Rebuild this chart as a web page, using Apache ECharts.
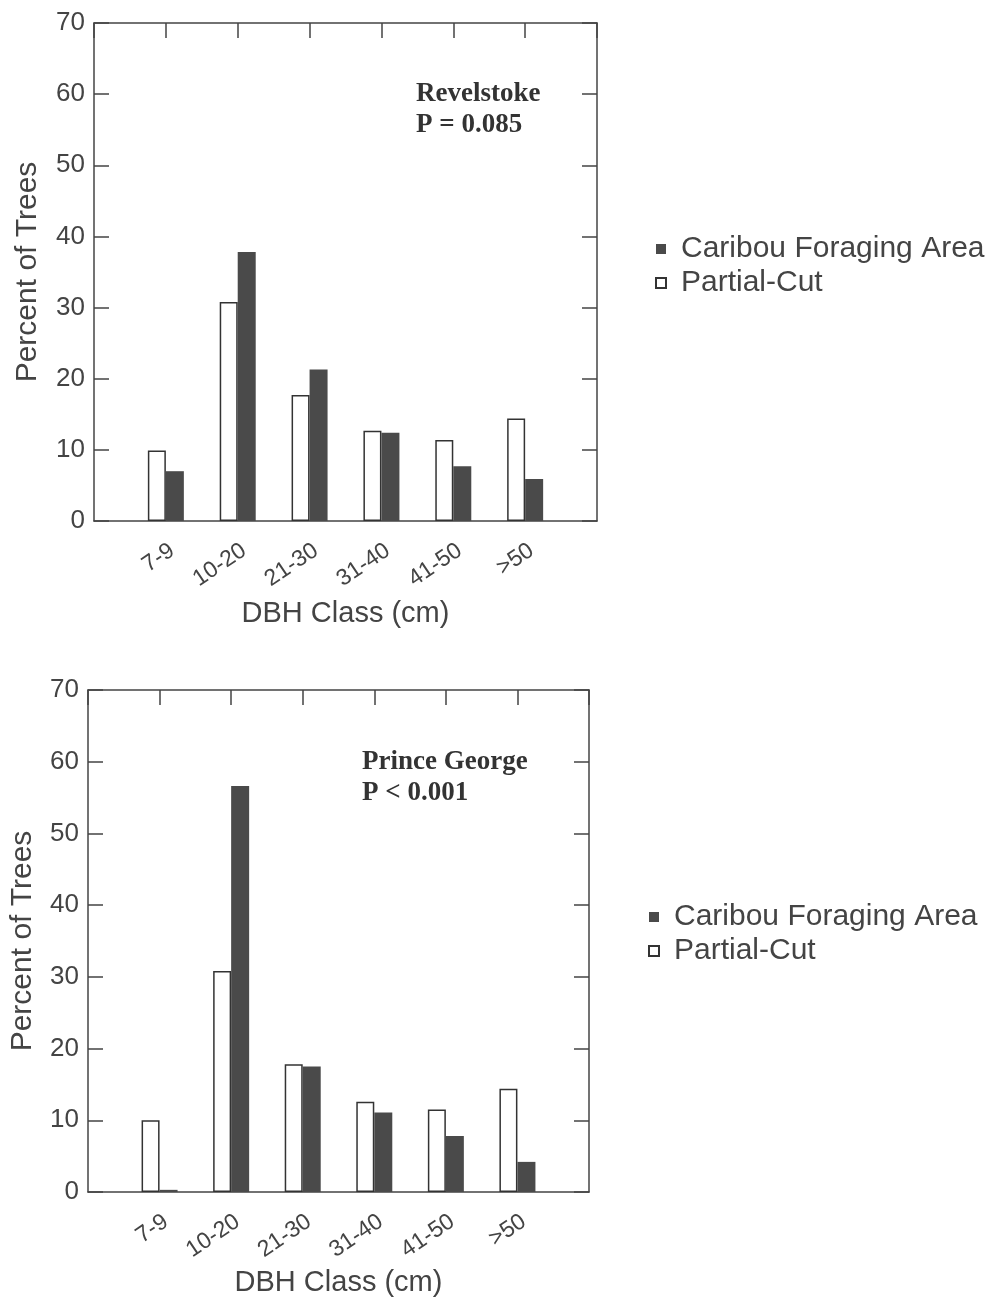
<!DOCTYPE html>
<html lang="en">

<head>
    <meta charset="UTF-8">
    <title>DBH Class</title>
    <script src="https://cdn.jsdelivr.net/npm/echarts@6/dist/echarts.min.js"></script>
    <style>
        * {
            margin: 0;
            padding: 0;
        }

        #main {
            width: 997px;
            height: 1302px;
            background-color: #fff;
        }
    </style>
</head>

<body>
    <div id="main"></div>
    <script>
        var categories = ['7-9', '10-20', '21-30', '31-40', '41-50', '>50'];
        var seriesNames = ['Caribou Foraging Area', 'Partial-Cut'];
        var revelstokeCaribou = [7.0, 37.8, 21.3, 12.4, 7.7, 5.9];
        var revelstokePartial = [9.9, 30.8, 17.7, 12.7, 11.4, 14.4];
        var princeCaribou = [0.3, 56.6, 17.5, 11.1, 7.8, 4.2];
        var princePartial = [10.0, 30.8, 17.8, 12.6, 11.5, 14.4];

        var chart = echarts.init(document.getElementById('main'));
        var axisColor = '#444';
        var textColor = '#444';
        var font = 'Liberation Sans';

        // categories sit at 1..6 on a 0..7 value axis so the frame has room at both ends
        function toPoints(values) {
            return values.map(function (v, i) { return [i + 1, v]; });
        }

        function xAxes(gi, gap) {
            return [{
                type: 'value', gridIndex: gi, position: 'bottom',
                min: 0, max: 7, interval: 1,
                name: 'DBH Class (cm)', nameLocation: 'middle', nameGap: gap,
                nameTextStyle: { fontSize: 29, color: textColor, fontFamily: font },
                axisLine: { onZero: false, lineStyle: { color: axisColor, width: 1.5 } },
                axisTick: { show: false },
                splitLine: { show: false },
                axisLabel: {
                    rotate: 34, margin: 18, fontSize: 23, color: textColor, fontFamily: font,
                    verticalAlign: 'top',
                    formatter: function (v) { return categories[v - 1] || ''; }
                }
            }, {
                type: 'value', gridIndex: gi, position: 'top',
                min: 0, max: 7, interval: 1,
                axisLine: { onZero: false, lineStyle: { color: axisColor, width: 1.5 } },
                axisTick: { inside: true, length: 15, lineStyle: { color: axisColor, width: 1.5 } },
                axisLabel: { show: false },
                splitLine: { show: false }
            }];
        }

        function yAxes(gi, gap) {
            return [{
                type: 'value', gridIndex: gi, position: 'left',
                min: 0, max: 70, interval: 10,
                name: 'Percent of Trees', nameLocation: 'middle', nameGap: gap,
                nameTextStyle: { fontSize: 30, color: textColor, fontFamily: font },
                axisLine: { show: true, onZero: false, lineStyle: { color: axisColor, width: 1.5 } },
                axisTick: { show: true, inside: true, length: 15, lineStyle: { color: axisColor, width: 1.5 } },
                axisLabel: { fontSize: 26, color: textColor, margin: 9, fontFamily: font },
                splitLine: { show: false }
            }, {
                type: 'value', gridIndex: gi, position: 'right',
                min: 0, max: 70, interval: 10,
                axisLine: { show: true, onZero: false, lineStyle: { color: axisColor, width: 1.5 } },
                axisTick: { show: true, inside: true, length: 15, lineStyle: { color: axisColor, width: 1.5 } },
                axisLabel: { show: false },
                splitLine: { show: false }
            }];
        }

        function barSeries(gi, partial, caribou) {
            return [{
                name: seriesNames[1], type: 'bar',
                xAxisIndex: gi * 2, yAxisIndex: gi * 2,
                barWidth: 18, barGap: '0%',
                itemStyle: { color: '#fff', borderColor: '#333', borderWidth: 1.5 },
                data: toPoints(partial)
            }, {
                name: seriesNames[0], type: 'bar',
                xAxisIndex: gi * 2, yAxisIndex: gi * 2,
                barWidth: 18, barGap: '0%',
                itemStyle: { color: '#4a4a4a' },
                data: toPoints(caribou)
            }];
        }

        function legend(left, top) {
            return {
                data: seriesNames, orient: 'vertical', left: left, top: top,
                icon: 'rect', itemWidth: 10, itemHeight: 10, itemGap: 4,
                textStyle: { fontSize: 30, color: textColor, fontFamily: font, padding: [0, 0, 0, 10] },
                selectedMode: false
            };
        }

        var noteStyle = {
            fontSize: 27, fontWeight: 'bold', color: '#333',
            fontFamily: 'Liberation Serif', lineHeight: 31
        };

        var option = {
            backgroundColor: '#fff',
            animation: false,
            title: [
                { text: 'Revelstoke\nP = 0.085', left: 411, top: 74, textStyle: noteStyle },
                { text: 'Prince George\nP < 0.001', left: 357, top: 742, textStyle: noteStyle }
            ],
            legend: [legend(650, 229), legend(643, 897)],
            grid: [
                { left: 94, top: 23, width: 503, height: 498 },
                { left: 87, top: 690, width: 502, height: 502 }
            ],
            xAxis: xAxes(0, 78).concat(xAxes(1, 76)),
            yAxis: yAxes(0, 51).concat(yAxes(1, 50)),
            series: barSeries(0, revelstokePartial, revelstokeCaribou)
                .concat(barSeries(1, princePartial, princeCaribou))
        };

        chart.setOption(option);
    </script>
</body>

</html>
